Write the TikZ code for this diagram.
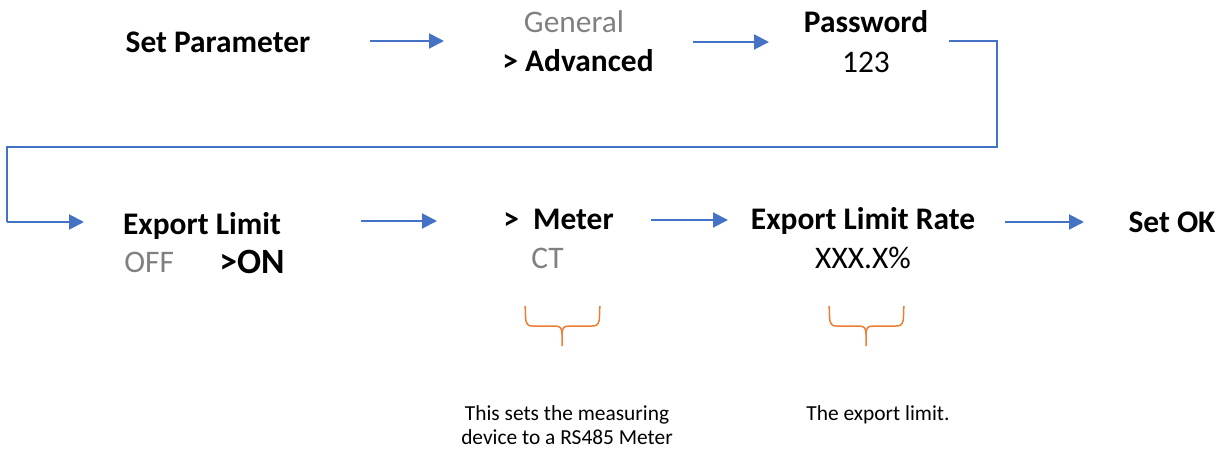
\documentclass[tikz,border=0pt]{standalone}
\usepackage{fontspec}
\setmainfont{Carlito}
\usetikzlibrary{arrows.meta}
\definecolor{arrblue}{HTML}{4472C4}
\definecolor{brorange}{HTML}{ED7D31}
\definecolor{optgray}{HTML}{808080}
\begin{document}
\begin{tikzpicture}[x=0.5pt,y=-0.5pt,
  lbl/.style={inner sep=0pt,anchor=base,font=\fontsize{15.7}{18}\selectfont},
  bold/.style={lbl,font=\fontsize{15.7}{18}\selectfont\bfseries},
  dim/.style={lbl,text=optgray},
  note/.style={inner sep=0pt,anchor=base,font=\fontsize{10.7}{12}\selectfont},
  arr/.style={draw=arrblue,line width=1pt,-{Triangle[length=7.5pt,width=7.5pt]}},
  loopline/.style={draw=arrblue,line width=0.6pt},
  bracepath/.style={draw=brorange,line width=0.75pt}]
\useasboundingbox (0,0) rectangle (1232,450);
% row 1
\node[bold] (sp) at (218,52) {Set Parameter};
\node[dim] (gen) at (574,32) {General};
\node[bold] (adv) at (578,71) {> Advanced};
\node[bold] (pw) at (866,32) {Password};
\node[lbl] (pwv) at (866,72) {123};
% row 2
\node[bold] (el) at (202,234) {Export Limit};
\node[dim,anchor=base west] (off) at (124,272) {OFF};
\node[bold,anchor=base west,font=\fontsize{17.8}{20}\selectfont\bfseries] (on) at (219,273) {>ON};
\node[bold,anchor=base west] (met) at (503,229) {>\hspace{0.45em}Meter};
\node[dim,anchor=base west] (ct) at (531,268) {CT};
\node[bold] (elr) at (863,229) {Export Limit Rate};
\node[lbl] (rate) at (863,268) {XXX.X\%};
\node[bold] (ok) at (1172,232) {Set OK};
% notes
\node[note] (n1a) at (567,420) {This sets the measuring};
\node[note] (n1b) at (567,444) {device to a RS485 Meter};
\node[note] (n2) at (878,420) {The export limit.};
% arrow end points
\coordinate (a1s) at (370,41); \coordinate (a1e) at (444,41);
\coordinate (a2s) at (693,42); \coordinate (a2e) at (769,42);
\coordinate (l0) at (949,41); \coordinate (l1) at (997,41);
\coordinate (l2) at (997,147); \coordinate (l3) at (7,147);
\coordinate (l4) at (7,222); \coordinate (a3e) at (84,222);
\coordinate (a4s) at (361,221); \coordinate (a4e) at (437,221);
\coordinate (a5s) at (651,220); \coordinate (a5e) at (728,220);
\coordinate (a6s) at (1005,222); \coordinate (a6e) at (1084,222);
\draw[arr] (a1s) -- (a1e);
\draw[arr] (a2s) -- (a2e);
\draw[loopline] (l0) -- (l1) -- (l2) -- (l3) -- (l4);
\draw[arr] (l4) -- (a3e);
\draw[arr] (a4s) -- (a4e);
\draw[arr] (a5s) -- (a5e);
\draw[arr] (a6s) -- (a6e);
% braces
\foreach \cx/\nm in {562/b1,866/b2}{
  \coordinate (\nm) at (\cx,346);
  \draw[bracepath] (\cx-37,306) .. controls (\cx-36,314) and (\cx-37,318) .. (\cx-36,321)
     .. controls (\cx-35,325) and (\cx-33,326) .. (\cx-29,326) -- (\cx-7,326)
     .. controls (\cx-2,326) and (\cx,328) .. (\cx,334) -- (\nm);
  \draw[bracepath] (\cx+38,306) .. controls (\cx+37,314) and (\cx+38,318) .. (\cx+37,321)
     .. controls (\cx+36,325) and (\cx+34,326) .. (\cx+30,326) -- (\cx+7,326)
     .. controls (\cx+2,326) and (\cx,328) .. (\cx,334);
}
\end{tikzpicture}
\end{document}
